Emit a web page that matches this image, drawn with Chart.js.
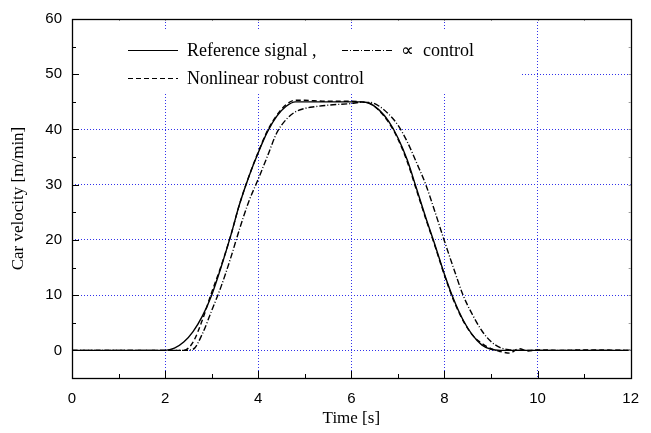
<!DOCTYPE html>
<html>
<head>
<meta charset="utf-8">
<script src="https://cdn.jsdelivr.net/npm/chart.js@4"></script>
<style>
  html, body { margin: 0; padding: 0; background: #fff; }
  #wrap { width: 651px; height: 433px; }
</style>
</head>
<body>
<div id="wrap"><canvas id="velChart"></canvas></div>
<script>
// time base [s]
const timeS = [0, 1, 2, 2.2, 2.4, 2.6, 2.8, 3.0, 3.2, 3.4, 3.6, 3.8, 4.0, 4.2, 4.4, 4.6, 4.8, 5.0, 5.2, 5.5, 6.0, 6.2, 6.4, 6.6, 6.8, 7.0, 7.2, 7.4, 7.6, 7.8, 8.0, 8.2, 8.4, 8.6, 8.8, 9.0, 9.2, 9.4, 9.6, 9.8, 10, 10.5, 11, 12];

// car velocity [m/min]
const refSignal = [0, 0, 0, 0.4, 1.5, 3.4, 6.2, 10, 15, 20.5, 26.5, 31.5, 35.8, 39.6, 42.4, 44.2, 45, 45, 45, 45, 45, 45, 44.7, 43.5, 41.5, 38.5, 34.5, 29.3, 24, 19, 13.8, 9.2, 5.5, 2.8, 1, 0.2, 0, 0, 0, 0, 0, 0, 0, 0];
const robustCtrl = [0, 0, 0, 0, 0, 1.5, 5.5, 10.5, 15.2, 20.5, 26.5, 31.5, 35.9, 39.8, 42.6, 44.5, 45.3, 45.3, 45.2, 45.1, 45.1, 45, 44.7, 43.4, 41.3, 38.3, 34.2, 29, 23.8, 18.8, 13.6, 9, 5.4, 2.8, 1.3, 0.3, -0.2, -0.5, 0.3, -0.1, 0.1, 0, 0.1, 0];
const hinfCtrl = [0, 0, 0, 0, 0, 0.2, 3, 7.2, 11.5, 16.5, 22, 27, 31, 35.2, 39.4, 41.8, 43.2, 43.8, 44.1, 44.4, 44.7, 44.9, 44.9, 44.2, 42.8, 40.8, 37.8, 34, 30, 25, 19.8, 14.8, 10, 6.5, 3.6, 1.6, 0.5, 0.1, 0, 0, 0, 0, 0, 0];

const xTicks = [0, 2, 4, 6, 8, 10, 12];
const yTicks = [-5, 0, 10, 20, 30, 40, 50, 60];

const toPoints = (ys) => timeS.map((t, i) => ({ x: t, y: ys[i] }));

const gridBlue = "rgb(50,50,235)";
const serif = "'Liberation Serif', 'Times New Roman', serif";
const sans = "'Liberation Sans', Arial, sans-serif";

// legend box, frame and inward tick marks
const plotDecor = {
  id: "plotDecor",
  beforeDatasetsDraw(chart) {
    const { ctx, chartArea: a } = chart;
    ctx.save();
    ctx.fillStyle = "#fff";
    ctx.fillRect(a.left + 1, a.top + 11, 447, 63);
    ctx.restore();
  },
  afterDraw(chart) {
    const { ctx, chartArea: a, scales } = chart;
    const xs = scales.x, ys = scales.y;
    ctx.save();
    ctx.strokeStyle = "#000";
    ctx.lineWidth = 1;
    // bottom / left ticks
    ctx.beginPath();
    for (let v = 0; v <= 12; v++) {
      const px = Math.round(xs.getPixelForValue(v)) + 0.5;
      const len = v % 2 === 0 ? 7 : 4;
      ctx.moveTo(px, a.bottom);
      ctx.lineTo(px, a.bottom - len);
    }
    for (let v = -5; v <= 60; v += 5) {
      const py = Math.round(ys.getPixelForValue(v)) + 0.5;
      const len = v % 10 === 0 ? 7 : 4;
      ctx.moveTo(a.left, py);
      ctx.lineTo(a.left + len, py);
    }
    ctx.stroke();
    // top / right ticks (small, grey)
    ctx.strokeStyle = "#999";
    ctx.beginPath();
    for (let v = 1; v < 12; v++) {
      const px = Math.round(xs.getPixelForValue(v)) + 0.5;
      ctx.moveTo(px, a.top);
      ctx.lineTo(px, a.top + 2);
    }
    for (let v = 0; v < 60; v += 5) {
      const py = Math.round(ys.getPixelForValue(v)) + 0.5;
      ctx.moveTo(a.right, py);
      ctx.lineTo(a.right - 2, py);
    }
    ctx.stroke();
    // frame
    ctx.strokeStyle = "#000";
    ctx.lineWidth = 1.3;
    ctx.strokeRect(Math.round(a.left) + 0.5, Math.round(a.top) + 0.5, Math.round(a.right - a.left), Math.round(a.bottom - a.top));

    // legend
    const items = [
      { text: "Reference signal ,", dash: [], x: a.left + 56, y: a.top + 31 },
      { text: "\u221D  control", dash: [6, 2, 1, 2], x: a.left + 270, y: a.top + 31 },
      { text: "Nonlinear robust control", dash: [5, 3], x: a.left + 56, y: a.top + 59 },
    ];
    ctx.font = "18px " + serif;
    ctx.textBaseline = "middle";
    ctx.fillStyle = "#000";
    items.forEach((it) => {
      ctx.setLineDash(it.dash);
      ctx.lineWidth = 1.2;
      ctx.beginPath();
      ctx.moveTo(it.x, it.y + 0.5);
      ctx.lineTo(it.x + 50, it.y + 0.5);
      ctx.stroke();
      ctx.setLineDash([]);
      ctx.fillText(it.text, it.x + 59, it.y + 1);
    });
    ctx.restore();
  },
};

const lineStyle = {
  borderColor: "#000",
  borderWidth: 1.4,
  pointRadius: 0,
  fill: false,
  cubicInterpolationMode: "monotone",
};

new Chart(document.getElementById("velChart"), {
  type: "line",
  data: {
    datasets: [
      { label: "Reference signal", data: toPoints(refSignal), ...lineStyle },
      { label: "Nonlinear robust control", data: toPoints(robustCtrl), borderDash: [5, 3], ...lineStyle },
      { label: "H\u221E control", data: toPoints(hinfCtrl), borderDash: [6, 2, 1, 2], ...lineStyle },
    ],
  },
  options: {
    responsive: true,
    maintainAspectRatio: false,
    animation: false,
    layout: { padding: { top: 13, right: 20, left: 0, bottom: 0 } },
    plugins: {
      legend: { display: false },
      tooltip: { enabled: false },
    },
    scales: {
      x: {
        type: "linear",
        min: 0,
        max: 12,
        afterBuildTicks: (s) => { s.ticks = xTicks.map((v) => ({ value: v })); },
        afterFit: (s) => { s.height = 55; },
        ticks: { color: "#000", font: { family: sans, size: 15 }, padding: 12, maxRotation: 0 },
        grid: {
          drawTicks: false,
          color: (c) => (c.tick.value > 0 && c.tick.value < 12 ? gridBlue : "transparent"),
        },
        border: { display: false, dash: [1, 2] },
        title: { display: true, text: "Time [s]", color: "#000", font: { family: serif, size: 17 }, padding: { top: 0, bottom: 4 } },
      },
      y: {
        min: -5,
        max: 60,
        afterBuildTicks: (s) => { s.ticks = yTicks.map((v) => ({ value: v })); },
        afterFit: (s) => { s.width = 72; },
        ticks: {
          color: "#000",
          font: { family: sans, size: 15 },
          padding: 10,
          callback: (v) => (v === -5 ? "" : v),
        },
        grid: {
          drawTicks: false,
          color: (c) => (c.tick.value >= 0 && c.tick.value < 60 ? gridBlue : "transparent"),
        },
        border: { display: false, dash: [1, 2] },
        title: { display: true, text: "Car velocity [m/min]", color: "#000", font: { family: serif, size: 17 }, padding: { top: 8, bottom: 0 } },
      },
    },
  },
  plugins: [plotDecor],
});
</script>
</body>
</html>
